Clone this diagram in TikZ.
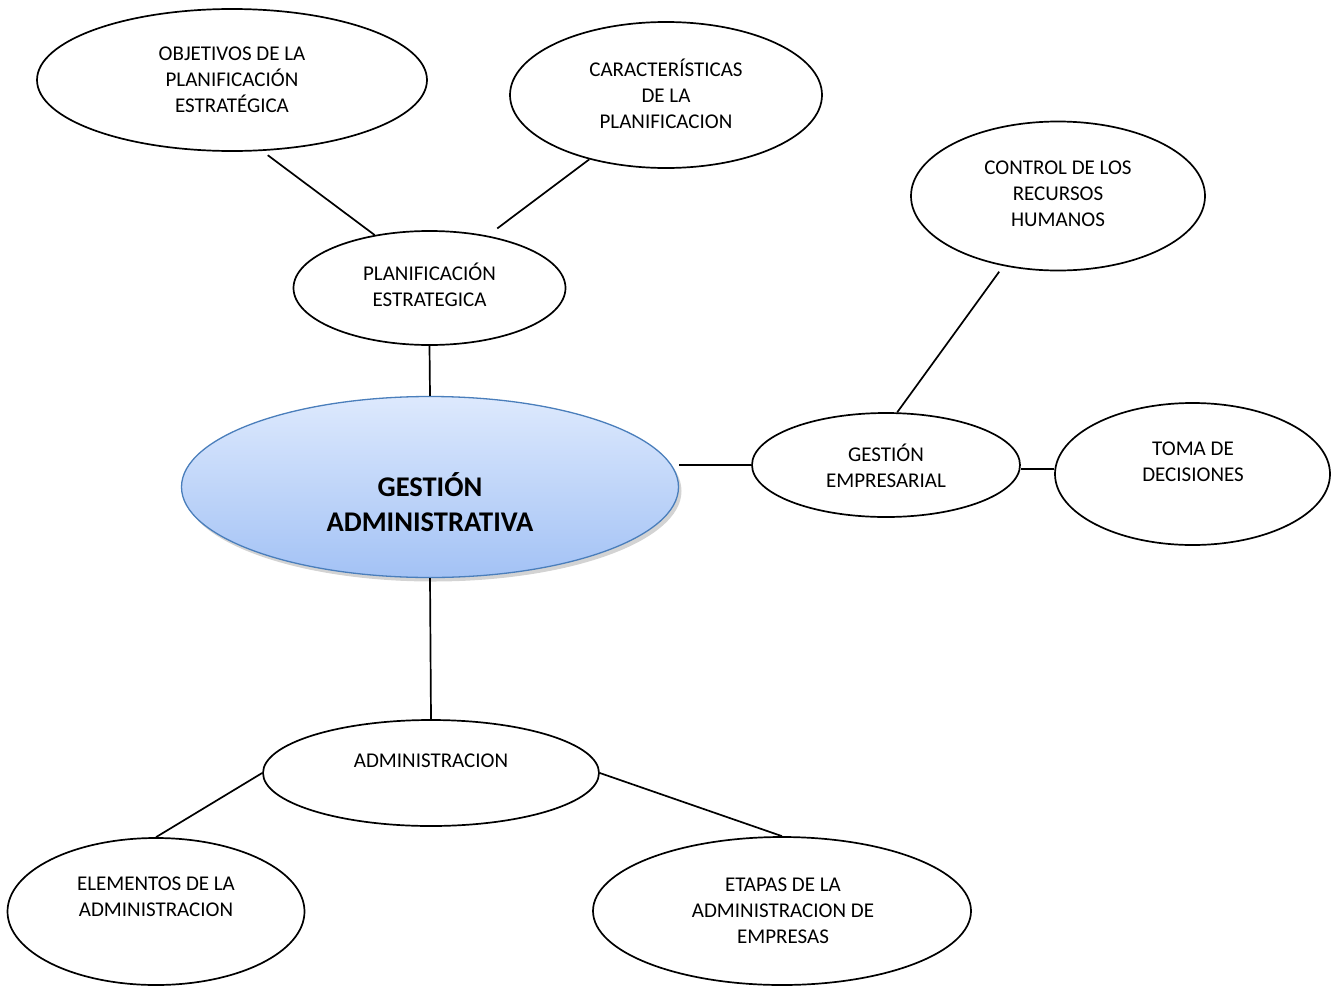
\documentclass[tikz,border=0pt]{standalone}
\usepackage{fontspec}
\setmainfont{Carlito}
\usetikzlibrary{shapes.geometric,shadows}
\definecolor{gaborder}{HTML}{4A7EBB}
\definecolor{gatop}{HTML}{DDE9FD}
\definecolor{gabot}{HTML}{A3C2F5}
\begin{document}
\begin{tikzpicture}[x=1pt,y=-1pt,
  bub/.style={ellipse, draw=black, line width=1.7pt, inner sep=0pt, fill=white},
  txt/.style={align=center, font=\fontsize{21}{26}\selectfont, inner sep=0pt},
  link/.style={draw=black, line width=1.7pt}]
\useasboundingbox (0,0) rectangle (1333,988);

% ellipses
\node[bub, minimum width=390pt, minimum height=142pt] (obj) at (232,80) {};
\node[bub, minimum width=312pt, minimum height=146pt] (car) at (666,95) {};
\node[bub, minimum width=272pt, minimum height=114pt] (plan) at (429.5,288) {};
\node[bub, minimum width=294pt, minimum height=149pt] (ctrl) at (1058,196) {};
\node[ellipse, draw=gaborder, line width=1.3pt, inner sep=0pt,
      top color=gatop, bottom color=gabot,
      drop shadow={shadow xshift=3pt, shadow yshift=-4pt, opacity=0.35, fill=gray},
      minimum width=497pt, minimum height=181pt] (ga) at (430,487) {};
\node[bub, minimum width=268pt, minimum height=104pt] (ge) at (886,465) {};
\node[bub, minimum width=275pt, minimum height=142pt] (toma) at (1192.5,474) {};
\node[bub, minimum width=336pt, minimum height=106pt] (adm) at (431,773) {};
\node[bub, minimum width=297pt, minimum height=147pt] (elem) at (156,911.5) {};
\node[bub, minimum width=378pt, minimum height=148pt] (etap) at (782,911) {};

% texts
\node[txt] (objt) at (232,80) {OBJETIVOS DE LA\\PLANIFICACIÓN\\ESTRATÉGICA};
\node[txt] (cart) at (666,94) {CARACTERÍSTICAS\\DE LA\\PLANIFICACION};
\node[txt] (plant) at (429.5,285) {PLANIFICACIÓN\\ESTRATEGICA};
\node[txt] (ctrlt) at (1058,194) {CONTROL DE LOS\\RECURSOS\\HUMANOS};
\node[align=center, inner sep=0pt, font=\fontsize{28.5}{35}\selectfont\bfseries] (gat) at (430,502) {GESTIÓN\\ADMINISTRATIVA};
\node[txt] (get) at (886,466) {GESTIÓN\\EMPRESARIAL};
\node[txt] (tomat) at (1193,462) {TOMA DE\\DECISIONES};
\node[txt] (admt) at (431,761) {ADMINISTRACION};
\node[txt] (elemt) at (156,897) {ELEMENTOS DE LA\\ADMINISTRACION};
\node[txt] (etapt) at (783,911) {ETAPAS DE LA\\ADMINISTRACION DE\\EMPRESAS};

% connectors
\draw[link, shorten <=7pt] (obj.-67) -- (plan.136);
\draw[link, shorten <=12pt] (plan.42) -- (car.220);
\draw[link] (plan.south) -- (ga.north);
\draw[link] (ge.west) -- (ge.west -| ga.east);
\path (ge.east |- toma.west) ++(0,-5) coordinate (gtc);
\draw[link] (gtc -| ge.east) -- (gtc -| toma.west);
\draw[link, shorten >=7pt] (ge.78) -- (ctrl.232);
\draw[link] (ga.south) -- (adm.north);
\draw[link] (adm.west) -- (elem.north);
\draw[link] (adm.east) -- (etap.north);
\end{tikzpicture}
\end{document}
